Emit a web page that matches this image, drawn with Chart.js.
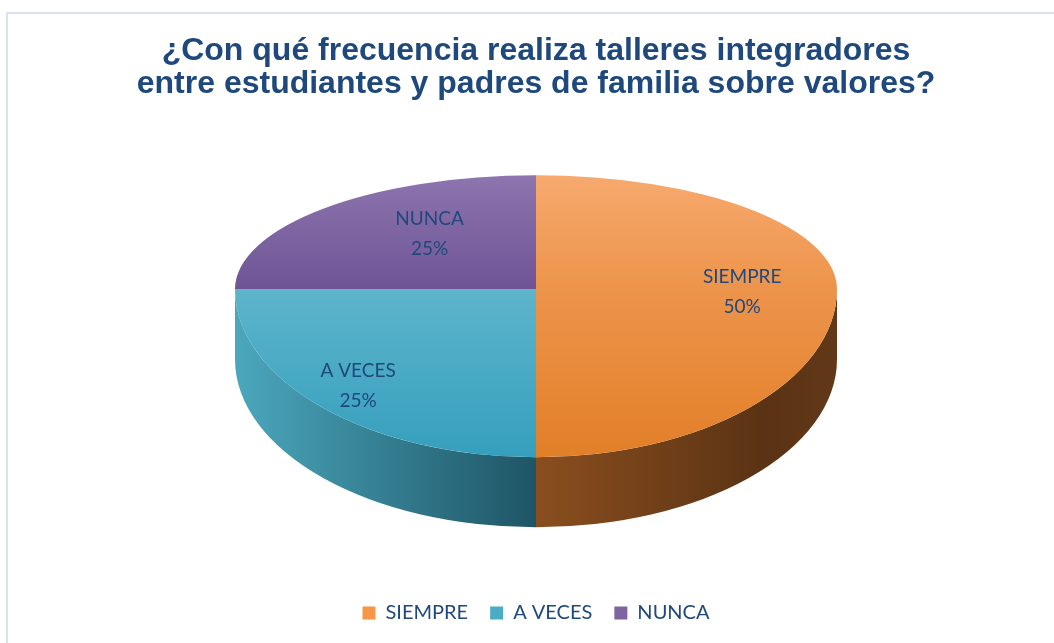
<!DOCTYPE html>
<html lang="es">
  <head>
    <meta charset="UTF-8" />
    <title>Talleres integradores sobre valores</title>
    <script src="https://cdn.jsdelivr.net/npm/chart.js"></script>
    <style>
      body {
        margin: 0;
        background: #fff;
        overflow: hidden;
      }
      .wrap {
        position: relative;
        width: 1054px;
        height: 643px;
      }
      .frame {
        position: absolute;
        left: 6px;
        top: 12px;
        width: 1100px;
        height: 700px;
        border-top: 2px solid #d8e3f0;
        border-left: 2px solid #d8e3f0;
      }
      canvas {
        position: absolute;
        left: 0;
        top: 0;
      }
    </style>
  </head>
  <body>
    <div class="wrap">
      <div class="frame"></div>
      <canvas id="pie" width="1054" height="643"></canvas>
    </div>

    <script>
      // data
      const categories = ["SIEMPRE", "A VECES", "NUNCA"];
      const percentages = [50, 25, 25];

      // look of the tilted pie (Excel-style 3D)
      const RX = 301;
      const RY_TOP = 114;
      const RY_BOTTOM = 168;
      const DEPTH = 70;
      const TEXT = "#1f487c";
      const SOLID = ["#f79646", "#4bacc6", "#8064a2"];
      const TOP_STOPS = [
        [[0, "#f7a96e"], [1, "#e27f28"]],
        [[0, "#5fb6cd"], [0.5, "#5db4cb"], [1, "#359fbd"]],
        [[0, "#8d75af"], [0.5, "#6e5495"], [1, "#6e5495"]],
      ];
      const SIDE_STOPS = [
        [[0, "#8a4e1e"], [0.5, "#8a4e1e"], [0.88, "#5a3314"], [1, "#623918"]],
        [[0, "#4ba7bd"], [0.5, "#1e5565"], [1, "#1e5565"]],
        [[0, "#5a4080"], [1, "#5a4080"]],
      ];
      // where each data label sits, as a share of the radius (x, y)
      const LABEL_POS = [
        [0.685, 0.7],
        [0.836, 0.79],
        [0.5, 0.73],
      ];

      const tiltPlugin = {
        id: "tilt",
        beforeDatasetsDraw(chart) {
          const ctx = chart.ctx;
          const arcs = chart.getDatasetMeta(0).data;
          if (!arcs.length) return;
          const { x: cx, y: cy, outerRadius: r } = arcs[0];
          const sx = RX / r;
          const st = RY_TOP / r;
          const sb = RY_BOTTOM / r;
          const mid = Math.round(cy);

          // side wall, only the front half shows
          arcs.forEach((arc, i) => {
            for (let k = -1; k <= 1; k++) {
              const shift = k * 2 * Math.PI;
              const lo = Math.max(arc.startAngle + shift, 0);
              const hi = Math.min(arc.endAngle + shift, Math.PI);
              if (hi <= lo) continue;
              ctx.save();
              ctx.translate(cx, cy);
              ctx.scale(sx, sb);
              ctx.beginPath();
              ctx.arc(0, 0, r, lo, hi);
              ctx.arc(0, DEPTH / sb, r, hi, lo, true);
              ctx.closePath();
              ctx.restore();
              const g = ctx.createLinearGradient(cx - RX, 0, cx + RX, 0);
              SIDE_STOPS[i].forEach(([o, c]) => g.addColorStop(o, c));
              ctx.fillStyle = g;
              ctx.fill();
            }
          });

          // top face: back half flatter than front half
          [
            [0, mid, st],
            [mid, chart.height, sb],
          ].forEach(([y0, y1, s]) => {
            ctx.save();
            ctx.beginPath();
            ctx.rect(0, y0, chart.width, y1 - y0);
            ctx.clip();
            ctx.translate(cx, cy);
            ctx.scale(sx, s);
            ctx.translate(-cx, -cy);
            arcs.forEach((a) => a.draw(ctx));
            ctx.restore();
          });
          return false;
        },
        afterDraw(chart) {
          const ctx = chart.ctx;
          const arcs = chart.getDatasetMeta(0).data;
          if (!arcs.length) return;
          const { x: cx, y: cy } = arcs[0];
          const total = percentages.reduce((a, b) => a + b, 0);
          ctx.save();
          ctx.font = "19px Lato";
          ctx.fillStyle = TEXT;
          ctx.textAlign = "center";
          ctx.textBaseline = "middle";
          arcs.forEach((arc, i) => {
            const m = (arc.startAngle + arc.endAngle) / 2;
            const [fx, fy] = LABEL_POS[i];
            const sin = Math.sin(m);
            const x = cx + RX * fx * Math.cos(m);
            const y = cy + (sin < 0 ? RY_TOP : RY_BOTTOM) * fy * sin + 3;
            const pct = Math.round((percentages[i] / total) * 100) + "%";
            ctx.fillText(categories[i], x, y - 15);
            ctx.fillText(pct, x, y + 15);
          });
          ctx.restore();
        },
      };

      new Chart(document.getElementById("pie"), {
        type: "pie",
        data: {
          labels: categories,
          datasets: [
            {
              data: percentages,
              borderWidth: 0,
              backgroundColor: (c) => {
                const area = c.chart.chartArea;
                if (!area) return SOLID[c.dataIndex];
                const cy = (area.top + area.bottom) / 2;
                const r = Math.min(area.right - area.left, area.bottom - area.top) / 2;
                const g = c.chart.ctx.createLinearGradient(0, cy - r, 0, cy + r);
                TOP_STOPS[c.dataIndex].forEach(([o, col]) => g.addColorStop(o, col));
                return g;
              },
            },
          ],
        },
        options: {
          responsive: false,
          animation: false,
          layout: { padding: { left: 18, right: 0, top: 0, bottom: 10 } },
          plugins: {
            title: {
              display: true,
              text: [
                "¿Con qué frecuencia realiza talleres integradores",
                "entre estudiantes y padres de familia sobre valores?",
              ],
              color: TEXT,
              font: { family: "Liberation Sans, Arial", size: 32, weight: "bold", lineHeight: 1.03 },
              padding: { top: 35, bottom: 11 },
            },
            legend: {
              position: "bottom",
              title: { display: true, text: " ", padding: { top: 100, bottom: 0 } },
              labels: {
                color: TEXT,
                boxWidth: 13,
                boxHeight: 13,
                padding: 22,
                font: { family: "Lato", size: 20 },
                generateLabels(chart) {
                  const items = Chart.overrides.pie.plugins.legend.labels.generateLabels(chart);
                  items.forEach((it, i) => {
                    it.fillStyle = SOLID[i];
                    it.strokeStyle = SOLID[i];
                    it.lineWidth = 0;
                  });
                  return items;
                },
              },
            },
            tooltip: { enabled: false },
          },
        },
        plugins: [tiltPlugin],
      });
    </script>
  </body>
</html>
